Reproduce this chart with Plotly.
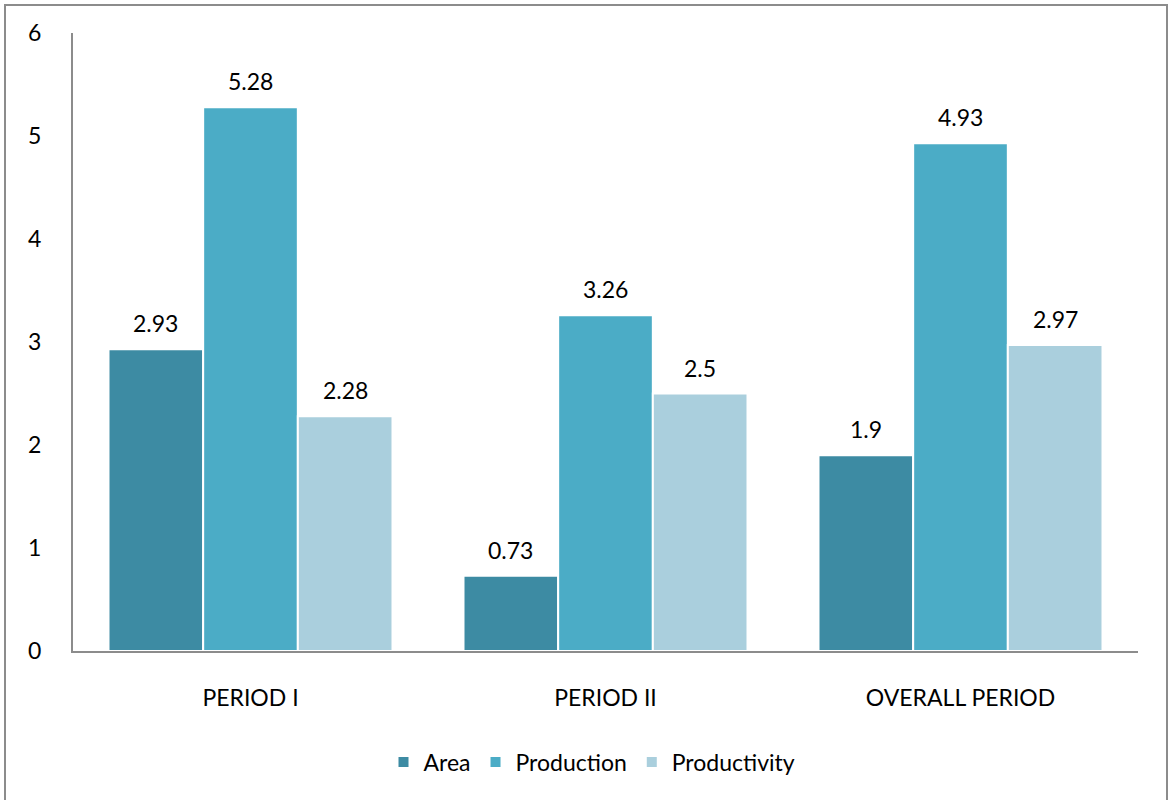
import plotly.graph_objects as go

categories = ["PERIOD I", "PERIOD II", "OVERALL PERIOD"]
area = [2.93, 0.73, 1.9]
production = [5.28, 3.26, 4.93]
productivity = [2.28, 2.5, 2.97]
series_names = ["Area", "Production", "Productivity"]
colors = ["#3D8BA3", "#4BACC6", "#AACFDD"]
y_ticks = [0, 1, 2, 3, 4, 5, 6]

FONT = "Lato"
FS = 23
bargap = 0.2
n = 3
bw = (1 - bargap) / n

fig = go.Figure()
xs = list(range(len(categories)))
for j, (name, vals, col) in enumerate(zip(series_names, [area, production, productivity], colors)):
    fig.add_trace(go.Bar(
        x=xs, y=vals, name=name,
        marker=dict(color=col, line=dict(color="white", width=2)),
    ))
    for i, v in enumerate(vals):
        fig.add_annotation(
            x=i + (j - 1) * bw, y=v, text=f"{v:g}", showarrow=False,
            yshift=26, xref="x", yref="y",
            font=dict(family=FONT, size=FS, color="black"),
        )

L, R, T, B = 73, 32, 33, 149
W, H = 1170, 800
pw, ph = W - L - R, H - T - B

def px2x(px):
    return (px - L) / pw

def py2y(py):
    return (H - B - py) / ph

fig.add_shape(type="rect", xref="paper", yref="paper",
              x0=px2x(5), x1=px2x(1167), y0=py2y(810), y1=py2y(5),
              line=dict(color="#8c8c8c", width=2), layer="below")

fig.update_layout(
    width=W, height=H,
    margin=dict(l=L, r=R, t=T, b=B),
    paper_bgcolor="white", plot_bgcolor="white",
    barmode="group", bargap=bargap, bargroupgap=0,
    font=dict(family=FONT, size=FS, color="black"),
    showlegend=True,
    legend=dict(orientation="h", x=px2x(592), xanchor="center",
                y=py2y(762), yanchor="middle",
                font=dict(family=FONT, size=FS, color="black"),
                itemwidth=30, traceorder="normal", itemclick=False),
    xaxis=dict(tickmode="array", tickvals=xs, ticktext=categories,
               range=[-0.5, len(categories) - 0.5],
               showline=True, linecolor="#8c8c8c", linewidth=2,
               showgrid=False, zeroline=False, ticks="",
               ticklabelstandoff=25,
               tickfont=dict(family=FONT, size=FS, color="black")),
    yaxis=dict(range=[0, 6], tickvals=y_ticks, showline=True,
               linecolor="#8c8c8c", linewidth=2, showgrid=False,
               zeroline=False, ticks="", ticklabelstandoff=25,
               tickfont=dict(family=FONT, size=FS, color="black")),
)

fig.write_html("out.html")
